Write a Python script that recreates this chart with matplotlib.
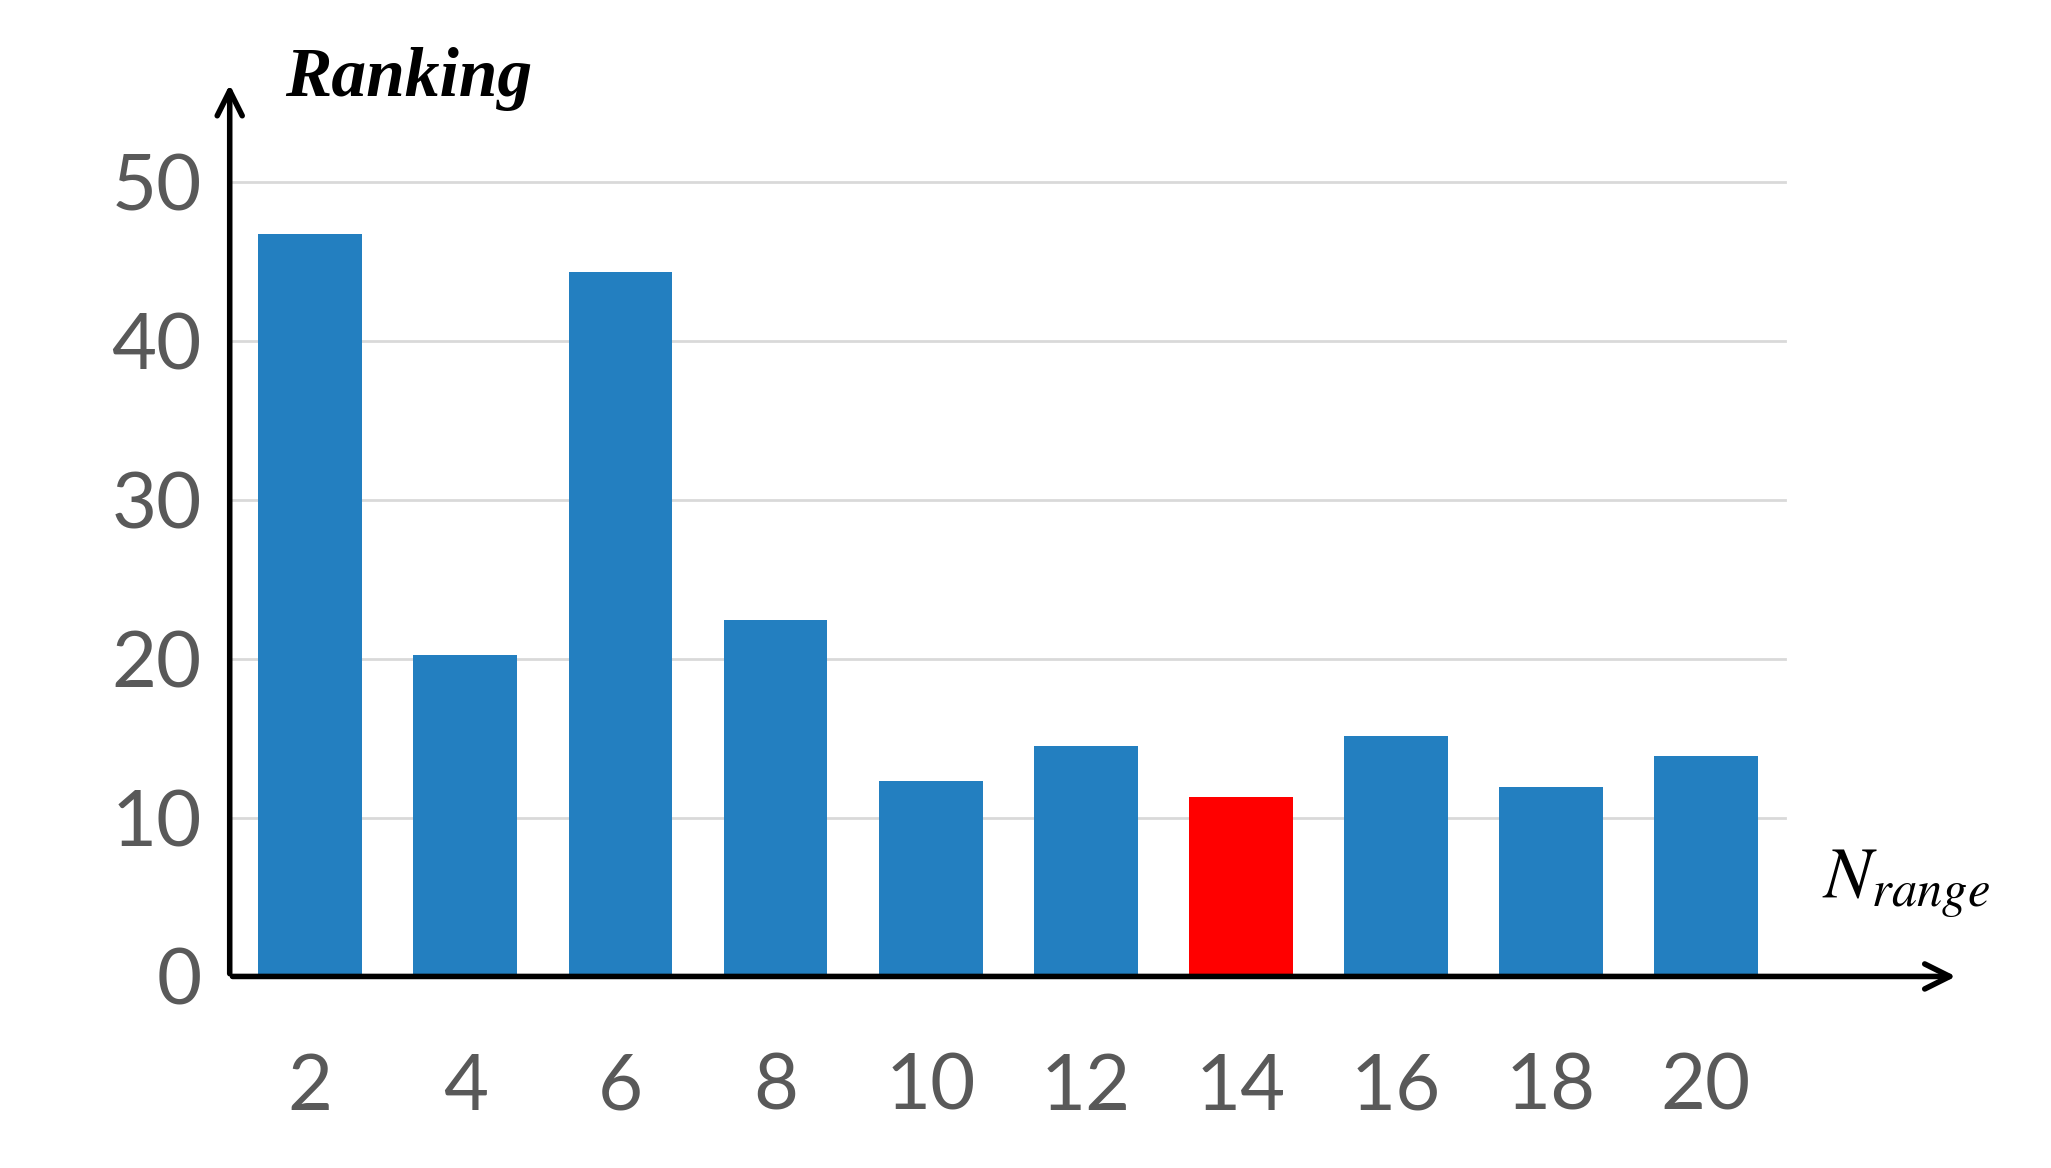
import matplotlib.pyplot as plt
import numpy as np

plt.rcParams['mathtext.fontset'] = 'stix'

labels = ['2', '4', '6', '8', '10', '12', '14', '16', '18', '20']
ranking = [46.7, 20.2, 44.3, 22.4, 12.3, 14.5, 11.3, 15.1, 11.9, 13.9]
colors = ['#237fc0'] * 10
colors[6] = '#ff0000'

fig = plt.figure(figsize=(20.51, 11.68), dpi=100)
ax = fig.add_axes([0.112, 0.164, 0.843, 0.766])

x = np.arange(len(labels))
for v in [10, 20, 30, 40, 50]:
    ax.plot([-0.52, 9.51], [v, v], color='#d9d9d9', lw=2, zorder=0)
ax.bar(x, ranking, width=0.67, color=colors, zorder=2)

ax.set_xlim(-0.52, 10.63)
ax.set_ylim(0, 56.3)
for s in ax.spines.values():
    s.set_visible(False)

# arrow axes
ax.annotate('', xy=(10.63, 0), xytext=(-0.52, 0),
            arrowprops=dict(arrowstyle='->', lw=4, color='black', mutation_scale=45),
            annotation_clip=False)
ax.annotate('', xy=(-0.52, 56.3), xytext=(-0.52, 0),
            arrowprops=dict(arrowstyle='->', lw=4, color='black', mutation_scale=45),
            annotation_clip=False)

ax.set_xticks(x)
ax.set_xticklabels(labels)
ax.set_yticks([0, 10, 20, 30, 40, 50])
ax.tick_params(length=0, labelsize=56, labelcolor='#595959', pad=20)
ax.tick_params(axis='x', pad=55)
for t in ax.get_xticklabels() + ax.get_yticklabels():
    t.set_fontfamily('Lato')

ax.text(-0.16, 56.5, 'Ranking', fontsize=50, fontweight='bold', fontstyle='italic',
        family='Liberation Serif', va='center', ha='left')
ax.text(9.75, 5.8, r'$N_{range}$', fontsize=52, va='center', ha='left')

fig.savefig('out.png', dpi=100)
